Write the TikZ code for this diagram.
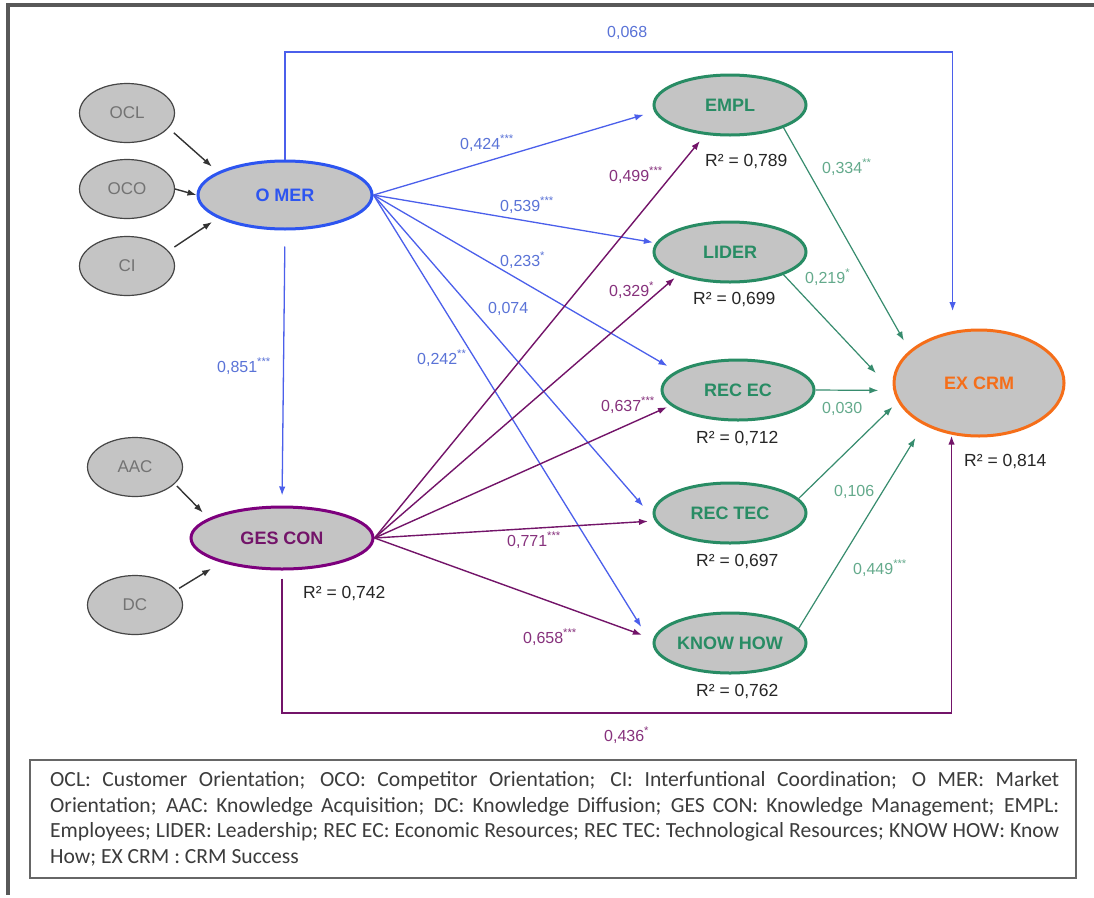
\documentclass[tikz,border=0pt]{standalone}
\usepackage{fontspec}
\setmainfont{Liberation Sans}
\newfontfamily\legendfont{Carlito}
\usetikzlibrary{arrows.meta,shapes.geometric}

\definecolor{frameGray}{RGB}{88,88,88}
\definecolor{fillGray}{RGB}{196,196,196}
\definecolor{smallEdge}{RGB}{70,70,70}
\definecolor{smallText}{RGB}{115,115,115}
\definecolor{omBlue}{RGB}{45,85,240}
\definecolor{lineBlue}{RGB}{75,95,235}
\definecolor{txtBlue}{RGB}{90,115,215}
\definecolor{gcPurple}{RGB}{125,0,125}
\definecolor{linePurple}{RGB}{115,20,105}
\definecolor{txtPurple}{RGB}{135,50,125}
\definecolor{nodeGreen}{RGB}{40,140,100}
\definecolor{lineGreen}{RGB}{55,140,110}
\definecolor{txtGreen}{RGB}{100,170,140}
\definecolor{exOrange}{RGB}{245,110,25}
\definecolor{legendGray}{RGB}{60,60,60}

\newcommand\sig[1]{\textsuperscript{#1}}

\tikzset{
  smallvar/.style={ellipse, draw=smallEdge, line width=1.2pt, fill=fillGray,
    minimum width=95pt, minimum height=59pt, inner sep=0pt, text=smallText,
    font=\fontsize{17}{17}\selectfont},
  bigvar/.style={ellipse, line width=3pt, fill=fillGray, inner sep=0pt,
    font=\bfseries\fontsize{18}{18}\selectfont},
  greenvar/.style={bigvar, draw=nodeGreen, text=nodeGreen,
    minimum width=152pt, minimum height=60pt},
  tip/.style={-{Latex[length=9pt,width=6.5pt]}},
  blk/.style={tip, draw=black!80, line width=1.4pt},
  bl/.style={tip, draw=lineBlue, line width=1.3pt},
  pu/.style={tip, draw=linePurple, line width=1.4pt},
  gr/.style={tip, draw=lineGreen, line width=1.2pt},
  coef/.style={anchor=base west, inner sep=0pt, font=\fontsize{16}{16}\selectfont},
  rsq/.style={anchor=base west, inner sep=0pt, text=black!85, font=\fontsize{17.5}{17.5}\selectfont},
}

\begin{document}
\begin{tikzpicture}[x=1pt,y=-1pt]
\useasboundingbox (0,0) rectangle (1094,897);
\fill[white] (0,0) rectangle (1094,897);

% page frame: top and left rules
\draw[frameGray, line width=3.5pt] (1094,5) -- (8,5) -- (8,895);

% indicator variables
\node[smallvar] (OCL) at (127,113) {OCL};
\node[smallvar] (OCO) at (127,189) {OCO};
\node[smallvar] (CI)  at (127,266) {CI};
\node[smallvar] (AAC) at (135,467) {AAC};
\node[smallvar] (DC)  at (135,605) {DC};

% constructs
\node[bigvar, draw=omBlue, text=omBlue, minimum width=174pt, minimum height=68pt] (OMER) at (285,195) {O MER};
\node[bigvar, draw=gcPurple, text=linePurple, minimum width=182pt, minimum height=62pt] (GESCON) at (282,538) {GES CON};
\node[greenvar] (EMPL)    at (730,105) {EMPL};
\node[greenvar] (LIDER)   at (730,252) {LIDER};
\node[greenvar] (RECEC)   at (738,390) {REC EC};
\node[greenvar] (RECTEC)  at (730,513) {REC TEC};
\node[greenvar] (KNOWHOW) at (730,643) {KNOW HOW};
\node[bigvar, draw=exOrange, text=exOrange, minimum width=170pt, minimum height=106pt] (EXCRM) at (979,383) {EX CRM};

% indicators into constructs
\draw[blk, shorten <=7pt, shorten >=8pt] (OCL.-20) -- (OMER.161);
\draw[blk] (OCO.east) -- (OMER.west);
\draw[blk, shorten <=7pt, shorten >=7pt] (CI.20) -- (OMER.199.5);
\draw[blk, shorten <=3pt, shorten >=8pt] (AAC.-23) -- (GESCON.165);
\draw[blk, shorten <=3pt, shorten >=12pt] (DC.20) -- (GESCON.202);

% market orientation paths
\coordinate (topY) at (0,52);
\draw[bl, shorten >=20pt] (OMER.north) -- (OMER.north |- topY) -| (EXCRM.117);
\draw[bl, shorten <=16pt, shorten >=10pt] (OMER.south) -- (GESCON.north);
\draw[bl, shorten >=11pt] (OMER.east) -- (EMPL.185);
\draw[bl, shorten >=3pt]  (OMER.east) -- (LIDER.173);
\draw[bl, shorten >=10pt] (OMER.east) -- (RECEC.163.4);
\draw[bl, shorten >=16pt] (OMER.east) -- (RECTEC.184.6);
\draw[bl, shorten >=22pt] (OMER.east) -- (KNOWHOW.182.8);

% knowledge management paths
\coordinate (botY) at (0,713);
\draw[pu, shorten <=8pt, shorten >=1pt] (GESCON.south) -- (GESCON.south |- botY) -| (EXCRM.242.8);
\draw[pu, shorten >=8pt]  (GESCON.east) -- (EMPL.230.4);
\draw[pu, shorten >=4pt]  (GESCON.east) -- (LIDER.204.2);
\draw[pu, shorten >=4pt]  (GESCON.east) -- (RECEC.193.3);
\draw[pu, shorten >=7pt]  (GESCON.east) -- (RECTEC.186.7);
\draw[pu, shorten >=12pt] (GESCON.east) -- (KNOWHOW.177);

% resources into CRM success
\draw[gr, shorten >=11.5pt] (EMPL.-23) -- (EXCRM.155.9);
\draw[gr, shorten >=26pt]   (LIDER.-23) -- (EXCRM.186);
\draw[gr, shorten >=15pt]   (RECEC.east) -- (EXCRM.185.4);
\draw[gr, shorten >=7.5pt]  (RECTEC.12) -- (EXCRM.193);
\draw[gr, shorten >=15.5pt] (KNOWHOW.12) -- (EXCRM.217.7);

% path coefficients
\node[coef, text=txtBlue] (c068) at (607,37) {0,068};
\node[coef, text=txtBlue] (c424) at (460,149) {0,424\sig{***}};
\node[coef, text=txtBlue] (c539) at (500,211) {0,539\sig{***}};
\node[coef, text=txtBlue] (c233) at (500,266) {0,233\sig{*}};
\node[coef, text=txtBlue] (c074) at (488,313) {0,074};
\node[coef, text=txtBlue] (c242) at (417,364) {0,242\sig{**}};
\node[coef, text=txtBlue] (c851) at (217,372) {0,851\sig{***}};
\node[coef, text=txtPurple] (c499) at (609,181) {0,499\sig{***}};
\node[coef, text=txtPurple] (c329) at (609,296) {0,329\sig{*}};
\node[coef, text=txtPurple] (c637) at (601,411) {0,637\sig{***}};
\node[coef, text=txtPurple] (c771) at (507,546) {0,771\sig{***}};
\node[coef, text=txtPurple] (c658) at (523,643) {0,658\sig{***}};
\node[coef, text=txtPurple] (c436) at (604,741) {0,436\sig{*}};
\node[coef, text=txtGreen] (c334) at (822,173) {0,334\sig{**}};
\node[coef, text=txtGreen] (c219) at (805,283) {0,219\sig{*}};
\node[coef, text=txtGreen] (c030) at (822,413) {0,030};
\node[coef, text=txtGreen] (c106) at (834,496) {0,106};
\node[coef, text=txtGreen] (c449) at (853,574) {0,449\sig{***}};

% explained variance
\node[rsq] (r742) at (303,598) {R² = 0,742};
\node[rsq] (r789) at (705,166) {R² = 0,789};
\node[rsq] (r699) at (693,304) {R² = 0,699};
\node[rsq] (r712) at (696,443) {R² = 0,712};
\node[rsq] (r697) at (696,566) {R² = 0,697};
\node[rsq] (r762) at (696,696) {R² = 0,762};
\node[rsq] (r814) at (964,466) {R² = 0,814};

% legend
\draw[black!60, line width=2pt] (30,760) rectangle (1076,878);
\node[anchor=north west, inner sep=0pt, align=left, text=legendGray,
      font=\legendfont\fontsize{21.6}{25.5}\selectfont] (legend) at (50,771.5) {%
  \makebox[1009pt][s]{OCL: Customer Orientation; OCO: Competitor Orientation; CI: Interfuntional Coordination; O MER: Market}\\
  \makebox[1009pt][s]{Orientation; AAC: Knowledge Acquisition; DC: Knowledge Diffusion; GES CON: Knowledge Management; EMPL:}\\
  \makebox[1009pt][s]{Employees; LIDER: Leadership; REC EC: Economic Resources; REC TEC: Technological Resources; KNOW HOW: Know}\\
  How; EX CRM : CRM Success};
\end{tikzpicture}
\end{document}
